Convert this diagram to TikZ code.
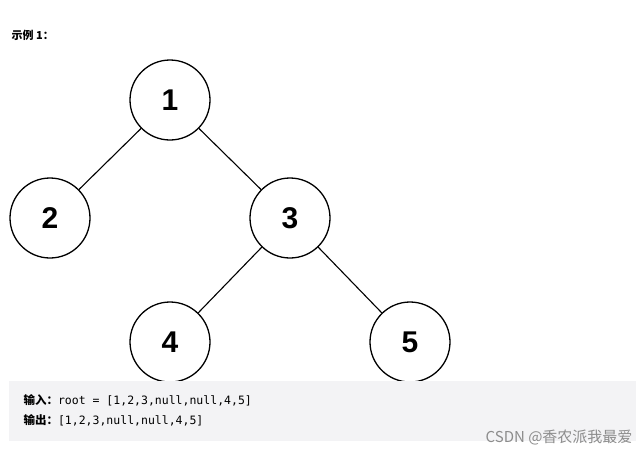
\documentclass[tikz,border=0pt]{standalone}
\usepackage{fontspec}
\setmainfont{Liberation Sans}
\newfontfamily\cjk{Noto Sans CJK SC}
\setmonofont{DejaVu Sans Mono}
\begin{document}
\begin{tikzpicture}[x=1pt,y=-1pt,
  tn/.style={circle,draw,line width=1.3pt,minimum size=80pt,inner sep=0pt,font=\fontsize{30}{30}\selectfont\bfseries},
  edge/.style={line width=1.1pt},
  code/.style={anchor=west,font=\fontsize{11.5}{12}\selectfont\ttfamily}]
\useasboundingbox (0,0) rectangle (644,456);
\node[anchor=west,font=\cjk\fontsize{11}{12}\selectfont\bfseries] (title) at (8,35) {示例 1：};
\node[tn] (n1) at (170,100) {1};
\node[tn] (n2) at (50,218) {2};
\node[tn] (n3) at (290,218) {3};
\node[tn] (n4) at (170,342) {4};
\node[tn] (n5) at (410,342) {5};
\draw[edge] (n1) -- (n2);
\draw[edge] (n1) -- (n3);
\draw[edge] (n3) -- (n4);
\draw[edge] (n3) -- (n5);
\fill[fill={rgb,255:red,243;green,243;blue,245}] (9,381) rectangle (636,441);
\node[code] (in) at (20,400) {{\cjk\bfseries 输入：}root = [1,2,3,null,null,4,5]};
\node[code] (out) at (20,420) {{\cjk\bfseries 输出：}[1,2,3,null,null,4,5]};
\node[anchor=east,text=black!45,font=\cjk\fontsize{15}{15}\selectfont] (wm) at (636,437) {CSDN @香农派我最爱};
\end{tikzpicture}
\end{document}
